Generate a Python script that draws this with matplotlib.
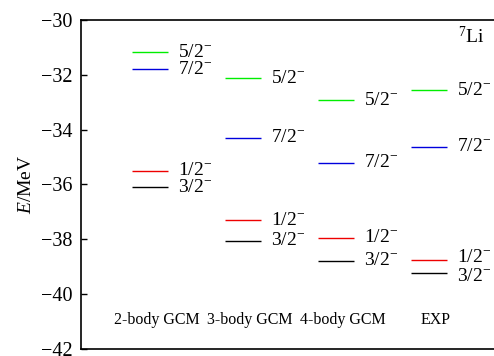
import matplotlib
matplotlib.use('Agg')
import matplotlib.pyplot as plt

plt.rcParams['font.family'] = ['Liberation Serif', 'DejaVu Serif']
plt.rcParams['mathtext.fontset'] = 'custom'
plt.rcParams['mathtext.rm'] = 'Liberation Serif'
plt.rcParams['mathtext.it'] = 'Liberation Serif:italic'

# Level energies (MeV) for each model
models = ['2-body GCM', '3-body GCM', '4-body GCM', 'EXP']
states = ['5/2', '7/2', '1/2', '3/2']
colors = ['#00ee00', '#0000dd', '#ee0000', 'black']
e_52 = [-31.17, -32.12, -32.92, -32.56]
e_72 = [-31.79, -34.30, -35.20, -34.62]
e_12 = [-35.50, -37.30, -37.95, -38.77]
e_32 = [-36.10, -38.05, -38.78, -39.24]
energies = [e_52, e_72, e_12, e_32]

fig = plt.figure(figsize=(4.94, 3.56), dpi=100)
ax = fig.add_axes([81/494, 7/356, 413/494, 329/356])

pos = [1, 2, 3, 4]
half = 0.19
for s, c, vals in zip(states, colors, energies):
    for i, (x, e) in enumerate(zip(pos, vals)):
        ax.hlines(e, x - half, x + half, color=c, linewidth=1.0)
        # spread the crowded EXP labels a little
        dy = 0
        if i == 3 and s == '1/2':
            dy = 2
        elif i == 3 and s == '3/2':
            dy = -2
        ax.annotate(s + '$^{-}$', (x + half, e), xytext=(7.5, dy),
                    textcoords='offset points', va='center', ha='left',
                    fontsize=14)

for x, m in zip(pos, models):
    ax.text(x + 0.07, -40.95, m, ha='center', va='center', fontsize=11.5)

ax.text(4.60, -30.6, '$^{7}$Li', ha='right', va='center', fontsize=14)

ax.set_xlim(0.258, 4.70)
ax.set_ylim(-42, -30)
ax.set_yticks([-42, -40, -38, -36, -34, -32, -30])
ax.set_yticklabels(['\u221242', '\u221240', '\u221238', '\u221236',
                    '\u221234', '\u221232', '\u221230'], fontsize=14.5)
ax.tick_params(axis='y', direction='in', length=4, width=1, pad=6)
ax.set_xticks([])
ax.spines['right'].set_visible(False)
for sp in ['left', 'top', 'bottom']:
    ax.spines[sp].set_linewidth(1.2)
ax.set_ylabel('$E$/MeV', fontsize=14, labelpad=4)

fig.savefig('out.png', dpi=100)
